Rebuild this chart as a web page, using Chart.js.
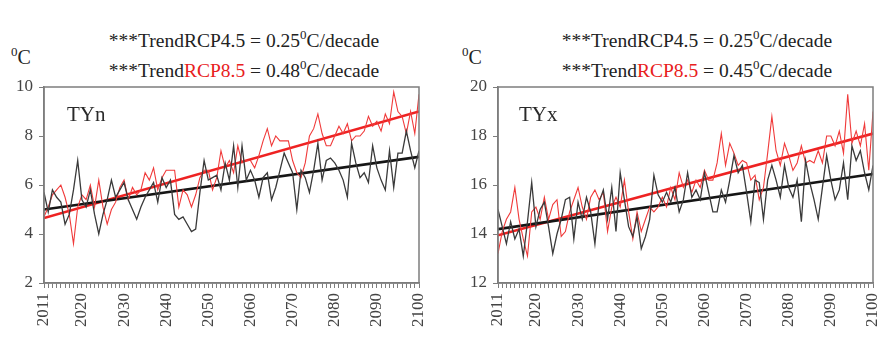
<!DOCTYPE html>
<html><head><meta charset="utf-8">
<script src="https://cdn.jsdelivr.net/npm/chart.js@4/dist/chart.umd.min.js"></script>
<style>
body{margin:0;width:879px;height:342px;background:#fff;position:relative;overflow:hidden;font-family:"Liberation Serif",serif;color:#222}
.t{position:absolute;font-size:19.5px;line-height:1;white-space:nowrap;transform:translateX(-50%)}
.u{position:absolute;font-size:20px;line-height:1;white-space:nowrap}
.lab{position:absolute;font-size:21px;line-height:1;white-space:nowrap;color:#2a2a2a}
.s{font-size:13px;position:relative;top:-8px}
.r{color:#e82020}
canvas{position:absolute}
</style></head><body>
<div class="u" style="left:11px;top:47px"><span class="s">0</span>C</div>
<div class="t" style="left:244px;top:31px">***TrendRCP4.5 = 0.25<span class="s">0</span>C/decade</div>
<div class="t" style="left:244px;top:61px">***Trend<span class="r">RCP8.5</span> = 0.48<span class="s">0</span>C/decade</div>
<div class="u" style="left:462px;top:47px"><span class="s">0</span>C</div>
<div class="t" style="left:697px;top:31px">***TrendRCP4.5 = 0.25<span class="s">0</span>C/decade</div>
<div class="t" style="left:697px;top:61px">***Trend<span class="r">RCP8.5</span> = 0.45<span class="s">0</span>C/decade</div>
<canvas id="c1" width="440" height="262" style="left:0;top:80px"></canvas>
<canvas id="c2" width="439" height="262" style="left:440px;top:80px"></canvas>
<div class="lab" style="left:67px;top:104px">TYn</div>
<div class="lab" style="left:519px;top:104px">TYx</div>
<script>
// ---- data ----
const years = [];
for (let y = 2011; y <= 2100; y++) years.push(y);
const tickLabelYears = [2011, 2020, 2030, 2040, 2050, 2060, 2070, 2080, 2090, 2100];
const trendYears = [2011, 2100];

const tynRCP45 = [5.7,4.9,5.8,5.5,5.3,4.4,4.8,5.8,7.0,5.4, 5.1,5.8,4.8,4.0,4.8,5.4,6.2,5.5,5.8,6.1,
  5.4,5.0,4.6,5.1,5.5,5.8,6.1,5.3,6.3,5.9, 6.2,4.8,4.6,4.7,4.4,4.1,4.2,5.7,7.0,6.2,
  6.3,6.4,5.8,6.9,6.2,7.6,5.9,7.6,6.2,6.6, 6.2,5.5,6.3,6.5,5.4,5.9,6.6,7.3,6.9,6.5,
  5.0,6.6,6.3,5.7,6.6,7.7,6.2,7.0,7.1,6.9, 6.6,6.2,5.5,7.7,6.9,6.3,6.5,6.1,7.6,6.7,
  6.2,5.8,7.4,5.9,7.3,7.3,8.2,7.4,6.7,7.4];
const tynRCP85 = [4.7,5.1,5.6,5.8,6.0,5.5,4.8,3.6,5.1,5.6, 5.4,6.0,5.1,6.2,5.1,4.4,5.0,5.3,5.9,6.2,
  5.4,5.9,5.6,5.8,6.5,6.2,6.7,5.8,6.3,6.6, 6.6,6.6,5.1,5.8,5.6,5.1,5.6,6.3,6.6,6.6,
  5.8,6.3,7.4,6.7,7.0,6.5,7.6,6.9,7.0,7.0, 6.7,7.2,7.8,8.3,7.6,8.0,7.8,7.8,7.8,7.0,
  6.5,6.3,6.9,8.0,8.3,8.9,8.1,7.6,7.6,8.0, 8.4,8.1,8.5,7.8,8.0,8.0,8.2,8.8,8.4,8.6,
  8.2,8.9,8.5,9.8,9.0,8.8,8.1,9.0,8.1,9.7];
const tynTrend45 = [5.0, 7.15];
const tynTrend85 = [4.65, 9.0];

const tyxRCP45 = [15.0,14.3,13.6,14.5,13.8,14.2,13.1,14.5,16.1,14.3, 15.0,15.3,14.3,13.2,14.0,14.6,15.4,15.5,13.8,15.3,
  14.6,15.5,14.9,13.6,15.3,15.8,14.6,15.9,14.1,16.5, 15.4,14.3,13.9,14.7,13.4,13.9,14.6,16.4,15.6,15.3,
  15.7,15.3,15.9,14.9,15.4,16.5,15.5,15.8,15.4,16.5, 15.7,14.9,14.9,15.8,15.3,16.2,17.2,16.5,16.8,15.7,
  14.5,16.2,16.1,14.6,16.2,16.8,16.2,15.5,16.8,15.9, 15.5,16.2,14.5,17.0,16.1,15.4,14.6,15.9,17.2,16.2,
  15.4,15.8,16.9,15.4,17.6,17.0,17.4,16.5,15.8,16.8];
const tyxRCP85 = [13.2,14.1,14.6,14.9,15.9,14.6,13.8,13.1,14.9,15.1, 14.6,15.5,14.6,15.2,15.4,13.9,14.1,14.9,15.4,15.9,
  15.1,14.6,15.5,15.8,15.4,15.7,14.1,15.1,15.5,15.1, 16.2,14.9,13.8,14.9,14.1,14.6,15.1,14.9,15.1,15.5,
  15.1,15.9,15.4,16.5,15.9,16.2,15.7,16.2,15.9,16.6, 16.2,16.2,16.9,18.1,16.8,17.7,17.3,16.8,17.0,16.9,
  16.2,16.4,15.4,15.9,17.3,18.8,17.4,16.8,17.7,17.2, 16.6,16.9,17.6,16.9,17.0,16.9,17.4,16.9,18.0,18.0,
  17.6,18.2,17.3,19.7,17.7,18.2,17.6,18.5,16.6,19.0];
const tyxTrend45 = [14.2, 16.45];
const tyxTrend85 = [13.95, 18.1];

const yTicksTYn = [2, 4, 6, 8, 10];
const yTicksTYx = [12, 14, 16, 18, 20];

// ---- drawing ----
const pts = (xs, ys) => xs.map((x, i) => ({x: x, y: ys[i]}));
const frame = {
  id: 'frame',
  afterDatasetsDraw(chart) {
    const a = chart.chartArea, ctx = chart.ctx;
    ctx.save(); ctx.strokeStyle = '#7d7d7d'; ctx.lineWidth = 1.5;
    ctx.strokeRect(a.left, a.top, a.right - a.left, a.bottom - a.top);
    ctx.restore();
  }
};
function make(id, s45, s85, t45, t85, yt, axisW, padRight) {
  new Chart(document.getElementById(id), {
    type: 'line',
    data: { datasets: [
      {data: pts(years, s45), borderColor: '#3a3a3a', borderWidth: 1.3, pointRadius: 0, tension: 0},
      {data: pts(years, s85), borderColor: '#f03a3a', borderWidth: 1.1, pointRadius: 0, tension: 0},
      {data: pts(trendYears, t45), borderColor: '#151515', borderWidth: 2.6, pointRadius: 0},
      {data: pts(trendYears, t85), borderColor: '#ee2222', borderWidth: 2.6, pointRadius: 0}
    ]},
    options: {
      responsive: false, animation: false, events: [],
      layout: {padding: {top: 7, right: padRight, bottom: 0, left: 0}},
      plugins: {legend: {display: false}, tooltip: {enabled: false}},
      scales: {
        x: {
          type: 'linear', min: years[0], max: years[years.length - 1],
          afterBuildTicks: sc => { sc.ticks = years.map(v => ({value: v})); },
          afterFit: sc => { sc.height = 59; sc.paddingLeft = 0; sc.paddingRight = 0; },
          grid: {drawOnChartArea: false, tickLength: 5, color: '#7d7d7d', lineWidth: 1},
          border: {display: true, color: '#7d7d7d', width: 1.5},
          ticks: {
            autoSkip: false, maxRotation: 90, minRotation: 90, padding: 5,
            color: '#444', font: {family: 'Liberation Serif', size: 17},
            callback: v => tickLabelYears.includes(v) ? String(v) : ''
          }
        },
        y: {
          min: yt[0], max: yt[yt.length - 1],
          afterBuildTicks: sc => { sc.ticks = yt.map(v => ({value: v})); },
          afterFit: sc => { sc.width = axisW; sc.paddingTop = 0; sc.paddingBottom = 0; },
          grid: {drawOnChartArea: false, tickLength: 5, color: '#7d7d7d'},
          border: {display: true, color: '#7d7d7d', width: 1.5},
          ticks: {color: '#444', padding: 6, font: {family: 'Liberation Serif', size: 17}}
        }
      }
    },
    plugins: [frame]
  });
}
make('c1', tynRCP45, tynRCP85, tynTrend45, tynTrend85, yTicksTYn, 44, 21);
make('c2', tyxRCP45, tyxRCP85, tyxTrend45, tyxTrend85, yTicksTYx, 58, 6);
</script>
</body></html>
